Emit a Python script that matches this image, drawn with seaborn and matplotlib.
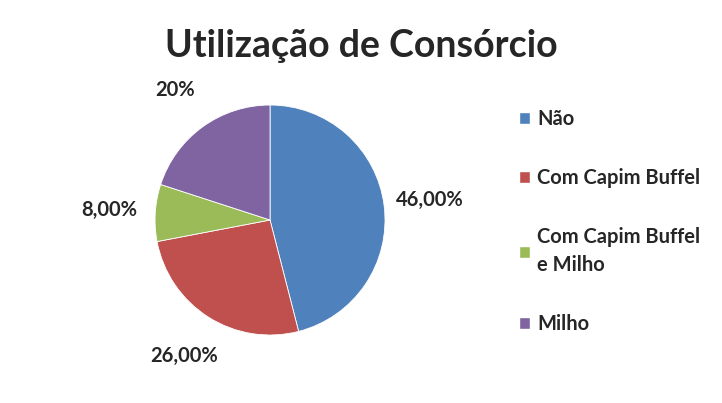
import matplotlib.pyplot as plt
import seaborn as sns
from matplotlib.patches import Patch

categorias = ["Não", "Com Capim Buffel", "Com Capim Buffel\ne Milho", "Milho"]
valores = [46, 26, 8, 20]
rotulos = ["46,00%", "26,00%", "8,00%", "20%"]
cores = ["#4F81BD", "#C0504D", "#9BBB59", "#8064A2"]

sns.set_style("white")
plt.rcParams['font.family'] = ['Lato', 'DejaVu Sans']

fig = plt.figure(figsize=(7.22, 4.03), dpi=100)
ax = fig.add_axes([0.2147, 0.1687, 0.3186, 0.5707])

fatias, textos = ax.pie(valores, colors=cores, startangle=90, counterclock=False,
                        labels=rotulos, labeldistance=1.4,
                        wedgeprops=dict(edgecolor='white', linewidth=0.6),
                        textprops=dict(fontsize=14.5, fontweight='bold', ha='center', va='center'))
ax.set_xlim(-1, 1)
ax.set_ylim(-1, 1)
ax.set_aspect('equal')
ax.axis('off')

fig.suptitle("Utilização de Consórcio", fontsize=27, fontweight='bold', y=0.885, va='center')

alcas = [Patch(facecolor=c) for c in cores]
leg = fig.legend(alcas, categorias, loc='upper left', bbox_to_anchor=(0.705, 0.755),
                 frameon=False, handlelength=0.55, handleheight=0.55, handletextpad=0.35,
                 labelspacing=1.95, borderpad=0, prop=dict(size=14.5, weight='bold'))
for t in leg.get_texts():
    t.set_linespacing(1.45)

fig.savefig("out.png", dpi=100)
